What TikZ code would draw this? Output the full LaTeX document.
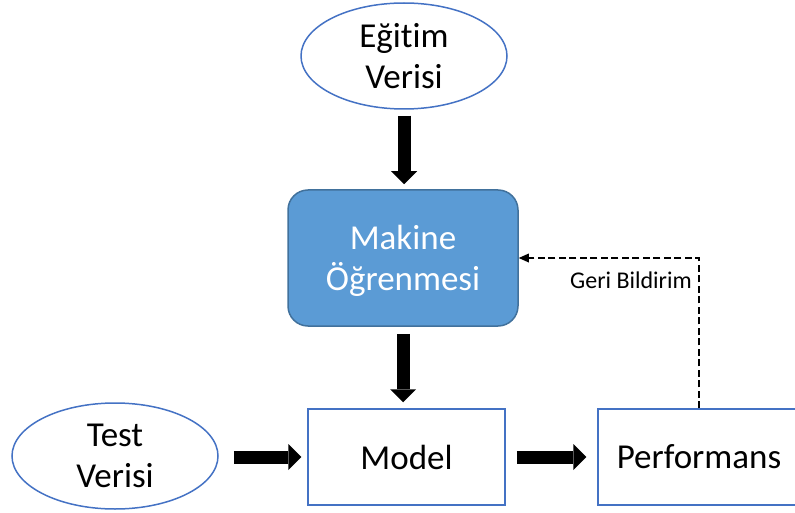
\documentclass[tikz,border=0pt]{standalone}
\usepackage{fontspec}
\setmainfont{Carlito}[Ligatures=NoCommon]
\usetikzlibrary{arrows.meta,shapes.geometric}
\definecolor{outline}{HTML}{4472C4}
\definecolor{mlfill}{HTML}{5B9BD5}
\definecolor{mlline}{HTML}{41719C}
\begin{document}
\begin{tikzpicture}[x=1pt,y=-1pt,
  big/.style={font=\fontsize{35}{41}\selectfont},
  dataset/.style={ellipse, draw=outline, line width=1.5pt, minimum width=206pt,
    minimum height=106pt, inner sep=0pt, align=center, text depth=0pt, big},
  stage/.style={rectangle, draw=outline, line width=1.5pt, inner sep=0pt, big},
  learner/.style={rectangle, rounded corners=20pt, fill=mlfill, draw=mlline,
    line width=1.5pt, minimum width=230pt, minimum height=136pt, inner sep=0pt,
    text=white, align=center, text depth=0pt, big},
  blockarrow/.style={line width=13pt,
    -{Triangle[length=13pt,width=26pt,line width=0pt]}},
  feedback/.style={line width=2.5pt, dash pattern=on 7pt off 3.5pt,
    -{Triangle[length=10pt,width=9pt,line width=0pt]}}
]
\useasboundingbox (0,0) rectangle (795,513);
\clip (0,0) rectangle (795,513);

% data sources, learner and evaluation stages
\node[dataset] (egitim) at (404,56) {Eğitim\\Verisi};
\node[learner] (makine) at (403,258) {Makine\\Öğrenmesi};
\node[dataset] (test) at (115,456) {Test\\Verisi};
\node[stage, minimum width=197pt, minimum height=96pt] (model) at (406.5,457) {Model};
\node[stage, minimum width=202pt, minimum height=96pt] (perf) at (699,457) {Performans};

% main flow
\draw[blockarrow, shorten <=6pt, shorten >=5pt]
  (egitim.south) -- (egitim.south |- makine.north);
\draw[blockarrow, shorten <=7pt, shorten >=6pt]
  (makine.south) -- (makine.south |- model.north);
\draw[blockarrow, shorten <=15pt, shorten >=6pt]
  (model.west -| test.east) -- (model.west);
\draw[blockarrow, shorten <=11pt, shorten >=11pt]
  (model.east) -- (perf.west);

% feedback loop
\draw[feedback] (perf.north) -- (perf.north |- makine.east) coordinate (bend)
  -- (makine.east);
\node[anchor=base east, inner sep=0pt, font=\fontsize{24}{29}\selectfont] (gb)
  at ([shift={(-7,30)}]bend) {Geri Bildirim};
\end{tikzpicture}
\end{document}
